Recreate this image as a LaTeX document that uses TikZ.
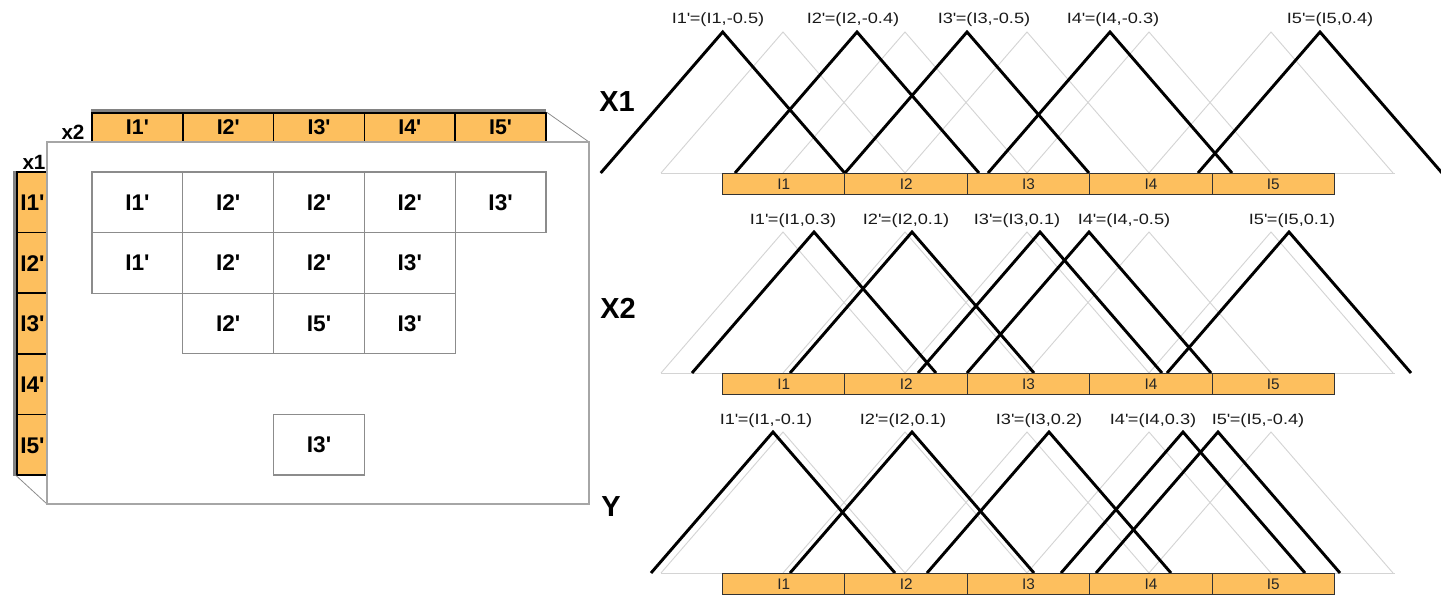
\documentclass[tikz,border=0pt]{standalone}
\usepackage{fontspec}
\setmainfont{Liberation Sans}
\newfontfamily\labfont[FakeStretch=1.22]{Liberation Sans}
\definecolor{orng}{RGB}{253,191,94}
\definecolor{lgrey}{RGB}{212,212,212}
\definecolor{dstrip}{RGB}{130,130,130}
\newcommand\myq{\textquotesingle}
\begin{document}
\begin{tikzpicture}[x=0.75pt,y=-0.75pt,
  peakline/.style={black,line width=2.2pt,line join=miter,line cap=butt},
  greyline/.style={lgrey,line width=0.7pt},
  barcell/.style={draw=black!80,fill=orng,line width=0.8pt,minimum width=91.8pt,minimum height=15.75pt,inner sep=0pt,anchor=north west,font=\fontsize{11.5}{13}\selectfont,text=black!85},
  hdrbox/.style={draw=black,fill=orng,line width=1.1pt,minimum width=68.1pt,minimum height=21.75pt,inner sep=0pt,font=\bfseries\fontsize{16}{18}\selectfont},
  colbox/.style={draw=black,fill=orng,line width=1.1pt,minimum width=33.75pt,minimum height=45.45pt,inner sep=0pt},
  hdrtext/.style={inner sep=0pt,font=\bfseries\fontsize{17}{19}\selectfont},
  cellbox/.style={draw=black!45,line width=0.8pt,minimum width=68.1pt,minimum height=45.45pt,inner sep=0pt,font=\bfseries\fontsize{17}{20}\selectfont},
  axislab/.style={inner sep=0pt,font=\bfseries\fontsize{21.75}{24}\selectfont},
  smallax/.style={inner sep=0pt,font=\bfseries\fontsize{15.5}{17}\selectfont},
  peaklab/.style={inner sep=0pt,font=\labfont\fontsize{11.2}{13}\selectfont,text=black!90},
  persp/.style={black!45,line width=0.6pt}]
\useasboundingbox (0,0) rectangle (1441,595);

% ---------------- left panel ----------------
\fill[dstrip] (91,109) rectangle (546,113);
\fill[dstrip] (13,171) rectangle (17,475.5);
\foreach \i in {1,...,5}{
  \node[hdrbox] (h\i) at ({137.4+90.8*(\i-1)},127.5) {I\i\myq};
}
\node[smallax] (x2lab) at (73,132) {x2};
\foreach \i in {1,...,5}{
  \node[colbox] (k\i) at (39.5,{202.3+60.6*(\i-1)}) {};
  \node[hdrtext,anchor=west] (kt\i) at (20,{203+60.6*(\i-1)}) {I\i\myq};
}
\node[smallax] (x1lab) at (34,162) {x1};
\coordinate (ptr) at (589,142);
\coordinate (pbl) at (47,504);
\draw[persp] (h5.north east) -- (ptr);
\draw[persp] (k5.south west) -- (pbl);
\filldraw[fill=white,draw=black!35,line width=0.8pt] (47,142) rectangle (589,504);
\foreach \r/\c/\t in {1/1/1,1/2/2,1/3/2,1/4/2,1/5/3,
                      2/1/1,2/2/2,2/3/2,2/4/3,
                      3/2/2,3/3/5,3/4/3,
                      5/3/3}{
  \node[cellbox] (g\r\c) at ({137.4+90.8*(\c-1)},{202.3+60.6*(\r-1)}) {I\t\myq};
}

% ---------------- right panel ----------------
\foreach \b/\pl [count=\r] in {173/{722.7,857,967,1110,1320},373/{814,912,1040,1089,1289},573/{773,912,1049,1183,1218}}{
  \draw[greyline] (661,\b) -- (1395,\b);
  \foreach \c in {783,905,1027,1149,1271}{
    \draw[greyline] ({\c-122},\b) -- (\c,{\b-141}) -- ({\c+122},\b);
  }
  \foreach \p in \pl{
    \draw[peakline] ({\p-122},\b) -- (\p,{\b-141}) -- ({\p+122},\b);
  }
  \foreach \i in {1,...,5}{
    \node[barcell] (bar\r\i) at ({722+122.4*(\i-1)},\b) {I\i};
  }
}
\node[axislab] (ax1) at (617,102) {X1};
\node[axislab] (ax2) at (618,308) {X2};
\node[axislab] (ay) at (611,507) {Y};
\node[peaklab] (l11) at (718,20) {I1\myq=(I1,-0.5)};
\node[peaklab] (l12) at (853,20) {I2\myq=(I2,-0.4)};
\node[peaklab] (l13) at (984,20) {I3\myq=(I3,-0.5)};
\node[peaklab] (l14) at (1113,20) {I4\myq=(I4,-0.3)};
\node[peaklab] (l15) at (1330,20) {I5\myq=(I5,0.4)};
\node[peaklab] (l21) at (793,221) {I1\myq=(I1,0.3)};
\node[peaklab] (l22) at (906,221) {I2\myq=(I2,0.1)};
\node[peaklab] (l23) at (1017,221) {I3\myq=(I3,0.1)};
\node[peaklab] (l24) at (1124,221) {I4\myq=(I4,-0.5)};
\node[peaklab] (l25) at (1292,221) {I5\myq=(I5,0.1)};
\node[peaklab] (l31) at (766,421) {I1\myq=(I1,-0.1)};
\node[peaklab] (l32) at (903,421) {I2\myq=(I2,0.1)};
\node[peaklab] (l33) at (1039,421) {I3\myq=(I3,0.2)};
\node[peaklab] (l34) at (1153,421) {I4\myq=(I4,0.3)};
\node[peaklab] (l35) at (1258,421) {I5\myq=(I5,-0.4)};
\end{tikzpicture}
\end{document}
